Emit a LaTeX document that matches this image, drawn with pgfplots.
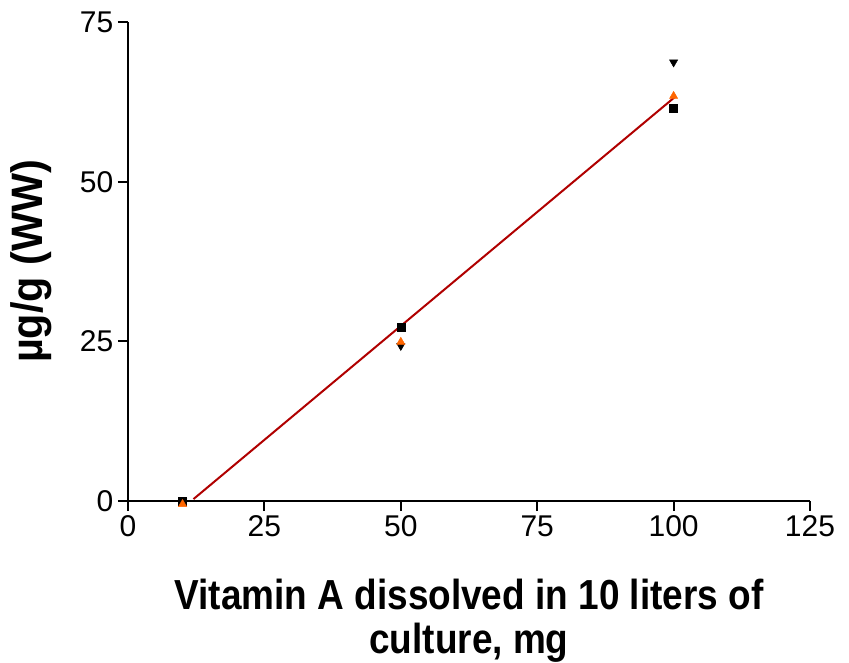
\documentclass[border=0pt]{standalone}
\usepackage{pgfplots}
\pgfplotsset{compat=1.18}
\usepackage{fontspec}
\setmainfont{Liberation Sans}
\newfontfamily\condx[FakeStretch=0.88]{Liberation Sans Bold}
\newfontfamily\condy[FakeStretch=0.94]{Liberation Sans Bold}
\definecolor{regred}{RGB}{176,0,0}
\definecolor{triorange}{RGB}{255,102,0}
\begin{document}
\begin{tikzpicture}
\path[use as bounding box] (-96pt,-120.75pt) rectangle (540.75pt,375.75pt);
\begin{axis}[
  scale only axis, width=511.5pt, height=359.25pt,
  xmin=0, xmax=125, ymin=0, ymax=75,
  axis x line=bottom, axis y line=left,
  axis line style={-, line width=1.5pt, black},
  xtick={0,25,50,75,100,125}, ytick={0,25,50,75},
  tick style={line width=1.5pt, black},
  tick align=outside, major tick length=7.5pt,
  tick label style={font=\fontsize{22.5}{26}\selectfont},
  /pgf/number format/assume math mode=true,
  xlabel={Vitamin A dissolved in 10 liters of\\culture, mg},
  xlabel style={font=\fontsize{31.5}{32.5}\condx, align=center, yshift=-25pt},
  ylabel={µg/g (WW)},
  ylabel style={font=\fontsize{33}{36}\condy, yshift=14pt},
  clip=false,
]
\addplot[regred, line width=1.5pt] coordinates {(12,0.3) (100.3,63.3)};
\addplot[only marks, mark=square*, mark size=3pt, black] coordinates {(10,0) (50,27.2) (100,61.5)};
\addplot[only marks, mark=triangle*, mark options={rotate=180}, mark size=3.5pt, black] coordinates {(10,0) (50,24.3) (100,68.7)};
\addplot[only marks, mark=triangle*, mark size=3.5pt, triorange] coordinates {(10,-0.5) (50,24.9) (100,63.4)};
\end{axis}
\end{tikzpicture}
\end{document}
